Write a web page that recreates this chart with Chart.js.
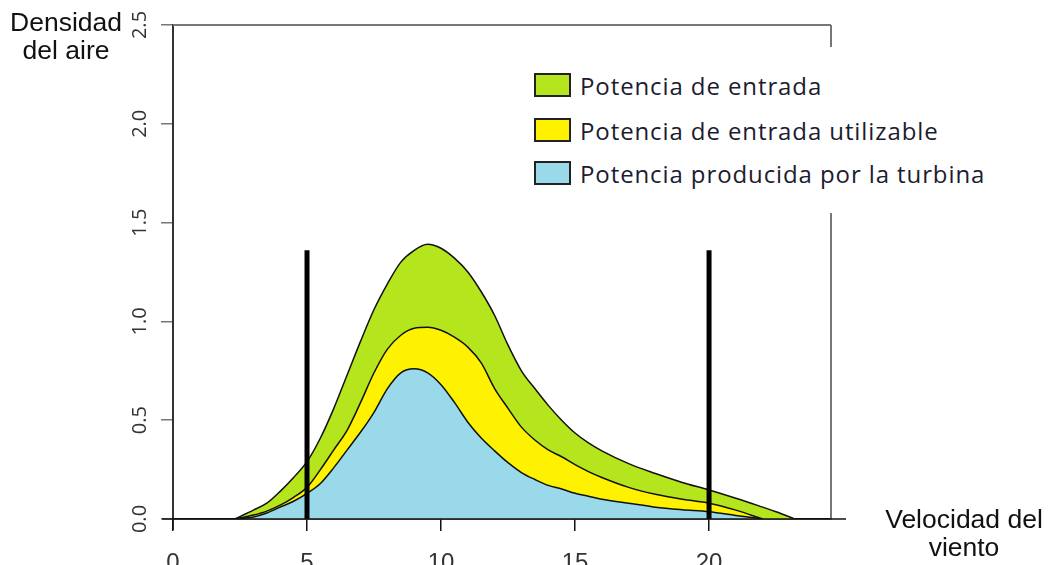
<!DOCTYPE html>
<html>
<head>
<meta charset="utf-8">
<script src="https://cdn.jsdelivr.net/npm/chart.js@4"></script>
<style>
  body { margin: 0; background: #fff; }
  #wrap { position: relative; width: 1048px; height: 565px; overflow: hidden; }
  #chart { position: absolute; left: 0; top: 0; }
  .axis-title {
    position: absolute; font-family: "Liberation Sans", Arial, sans-serif;
    font-size: 26.5px; line-height: 28px; color: #111; text-align: center;
  }
  #legend {
    position: absolute; left: 520px; top: 47px; width: 480px; height: 166px;
    background: #fff; font-family: "Open Sans", sans-serif; color: #1c1c30;
  }
  .item { position: absolute; left: 14px; height: 24px; display: flex; align-items: center; }
  .swatch { width: 33px; height: 20px; border: 2px solid #222; margin-right: 9px; }
  .item span { font-size: 24px; letter-spacing: 0.9px; white-space: nowrap; }
</style>
</head>
<body>
<div id="wrap">
  <canvas id="chart" width="1048" height="565"></canvas>
  <div class="axis-title" style="left:0; top:8px; width:132px;">Densidad<br>del aire</div>
  <div class="axis-title" style="left:880px; top:505px; width:168px;">Velocidad del<br>viento</div>
  <div id="legend"></div>
</div>
<script>
// Wind speed (x) shared by the three curves
const windSpeed = [2.3, 3, 3.5, 4, 4.5, 5, 5.5, 6, 6.5, 7, 7.5, 8, 8.5, 9, 9.5, 10, 10.5, 11, 11.5, 12,
  12.5, 13, 13.5, 14, 14.5, 15, 15.5, 16, 17, 18, 19, 20, 21, 22, 22.5, 23.2];

const inputPower = [0, 0.045, 0.08, 0.14, 0.21, 0.29, 0.41, 0.56, 0.73, 0.90, 1.06, 1.19, 1.30, 1.36, 1.39, 1.37,
  1.32, 1.25, 1.15, 1.03, 0.88, 0.75, 0.66, 0.575, 0.50, 0.435, 0.385, 0.345, 0.28, 0.23, 0.185, 0.147, 0.105, 0.06, 0.037, 0];

const usablePower = [0, 0.02, 0.04, 0.07, 0.11, 0.16, 0.25, 0.35, 0.45, 0.59, 0.74, 0.86, 0.93, 0.965, 0.97, 0.955,
  0.92, 0.87, 0.79, 0.66, 0.56, 0.465, 0.40, 0.35, 0.315, 0.275, 0.24, 0.21, 0.16, 0.125, 0.10, 0.08, 0.045, 0, null, null];

const turbinePower = [0, 0.01, 0.03, 0.06, 0.09, 0.13, 0.18, 0.26, 0.35, 0.44, 0.54, 0.66, 0.74, 0.76, 0.74, 0.68,
  0.59, 0.49, 0.41, 0.345, 0.285, 0.235, 0.20, 0.17, 0.152, 0.13, 0.115, 0.10, 0.08, 0.06, 0.047, 0.037, 0.018, 0, null, null];

// Cut-in / cut-out markers
const cutSpeeds = [5, 20];
const markerHeight = 1.36;

const xTicks = [0, 5, 10, 15, 20];
const yTicks = [0, 0.5, 1.0, 1.5, 2.0, 2.5];

const seriesLabels = ['Potencia de entrada', 'Potencia de entrada utilizable', 'Potencia producida por la turbina'];
const seriesColors = ['#b5e61d', '#fff200', '#99d9ea'];

const toPoints = values => windSpeed.map((x, i) => ({ x, y: values[i] }));

const curve = (label, values, color) => ({
  label,
  data: toPoints(values),
  borderColor: '#111',
  borderWidth: 1.5,
  backgroundColor: color,
  fill: 'origin',
  pointRadius: 0,
  cubicInterpolationMode: 'monotone',
  spanGaps: false
});

const markers = cutSpeeds.map(v => ({
  label: 'marker ' + v,
  data: [{ x: v, y: 0 }, { x: v, y: markerHeight }],
  borderColor: '#000',
  borderWidth: 5,
  borderCapStyle: 'butt',
  pointRadius: 0,
  fill: false
}));

// Frame, axis extensions and rotated y labels (R style)
const framePlugin = {
  id: 'frame',
  afterDraw(chart) {
    const { ctx, chartArea: a, scales: { y } } = chart;
    ctx.save();
    ctx.strokeStyle = '#777';
    ctx.lineWidth = 2;
    ctx.beginPath();
    ctx.moveTo(a.left, y.getPixelForValue(2.5));
    ctx.lineTo(a.right, y.getPixelForValue(2.5));
    ctx.moveTo(a.right, y.getPixelForValue(2.5));
    ctx.lineTo(a.right, a.bottom);
    ctx.stroke();

    ctx.strokeStyle = '#111';
    ctx.lineWidth = 1.5;
    ctx.beginPath();
    ctx.moveTo(a.left - 11, a.bottom);
    ctx.lineTo(a.right + 15, a.bottom);
    ctx.moveTo(a.left, a.bottom);
    ctx.lineTo(a.left, a.bottom + 11);
    ctx.stroke();

    ctx.fillStyle = '#333';
    ctx.font = '20px "Open Sans", sans-serif';
    ctx.textAlign = 'center';
    ctx.textBaseline = 'middle';
    yTicks.forEach(v => {
      ctx.save();
      ctx.translate(a.left - 33, y.getPixelForValue(v));
      ctx.rotate(-Math.PI / 2);
      ctx.fillText(v.toFixed(1), 0, 0);
      ctx.restore();
    });
    ctx.restore();
  }
};

new Chart(document.getElementById('chart'), {
  type: 'line',
  data: {
    datasets: [
      ...markers,
      curve(seriesLabels[2], turbinePower, seriesColors[2]),
      curve(seriesLabels[1], usablePower, seriesColors[1]),
      curve(seriesLabels[0], inputPower, seriesColors[0])
    ]
  },
  options: {
    responsive: false,
    animation: false,
    events: [],
    layout: { padding: { left: 113, top: 25, right: 217, bottom: 0 } },
    plugins: { legend: { display: false }, tooltip: { enabled: false } },
    scales: {
      x: {
        type: 'linear',
        min: 0,
        max: 24.55,
        afterFit: s => { s.height = 46; },
        afterBuildTicks: s => { s.ticks = xTicks.map(value => ({ value })); },
        grid: { drawOnChartArea: false, drawTicks: true, tickLength: 12, color: '#111', lineWidth: 1.5 },
        border: { display: true, color: '#111', width: 1.5 },
        ticks: { color: '#333', padding: 18, maxRotation: 0, font: { family: 'Liberation Sans', size: 24 } }
      },
      y: {
        min: 0,
        max: 2.5,
        afterFit: s => { s.width = 60; },
        afterBuildTicks: s => { s.ticks = yTicks.map(value => ({ value })); },
        grid: { drawOnChartArea: false, drawTicks: true, tickLength: 12, color: '#777', lineWidth: 1.5 },
        border: { display: true, color: '#333', width: 2 },
        ticks: { display: false }
      }
    }
  },
  plugins: [framePlugin]
});

// Legend
const legend = document.getElementById('legend');
const rowTops = [26, 71, 114];
seriesLabels.forEach((label, i) => {
  const item = document.createElement('div');
  item.className = 'item';
  item.style.top = rowTops[i] + 'px';
  item.innerHTML = `<div class="swatch" style="background:${seriesColors[i]}"></div><span>${label}</span>`;
  legend.appendChild(item);
});
</script>
</body>
</html>
